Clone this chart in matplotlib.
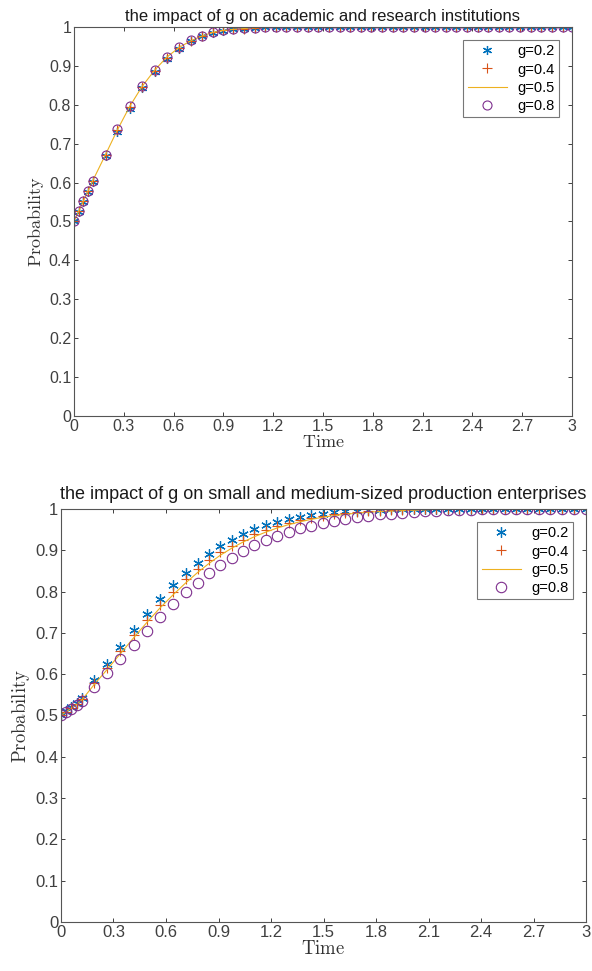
import numpy as np
import matplotlib
matplotlib.use('Agg')
import matplotlib.pyplot as plt

# Grundeinstellungen (MATLAB-Look)
plt.rcParams['font.family'] = ['Liberation Sans', 'DejaVu Sans']
plt.rcParams['mathtext.fontset'] = 'cm'

labels = ['g=0.2', 'g=0.4', 'g=0.5', 'g=0.8']
colors = ['#0072BD', '#D95319', '#EDB120', '#7E2F8E']

# oben: academic and research institutions
t_top = [0, 0.028, 0.056, 0.084, 0.112, 0.19, 0.262, 0.336, 0.41, 0.486, 0.558, 0.632,
         0.706, 0.772, 0.836, 0.898, 0.96, 1.024, 1.088, 1.152, 1.216, 1.28, 1.344, 1.408,
         1.472, 1.536, 1.6, 1.664, 1.728, 1.792, 1.856, 1.92, 1.984, 2.048, 2.112, 2.176,
         2.24, 2.304, 2.368, 2.432, 2.496, 2.56, 2.624, 2.688, 2.752, 2.816, 2.88, 2.944, 3.0]
top_g02 = [0.5, 0.525, 0.55, 0.576, 0.602, 0.668, 0.73, 0.79, 0.842, 0.885, 0.918, 0.944,
           0.963, 0.976, 0.985, 0.99, 0.994, 0.996, 0.998, 0.999, 0.999, 1.0, 1.0, 1.0,
           1.0, 1.0, 1.0, 1.0, 1.0, 1.0, 1.0, 1.0, 1.0, 1.0, 1.0, 1.0,
           1.0, 1.0, 1.0, 1.0, 1.0, 1.0, 1.0, 1.0, 1.0, 1.0, 1.0, 1.0, 1.0]
top_g04 = [0.5, 0.526, 0.552, 0.578, 0.604, 0.671, 0.735, 0.795, 0.846, 0.888, 0.921, 0.946,
           0.965, 0.977, 0.986, 0.991, 0.994, 0.996, 0.998, 0.999, 0.999, 1.0, 1.0, 1.0,
           1.0, 1.0, 1.0, 1.0, 1.0, 1.0, 1.0, 1.0, 1.0, 1.0, 1.0, 1.0,
           1.0, 1.0, 1.0, 1.0, 1.0, 1.0, 1.0, 1.0, 1.0, 1.0, 1.0, 1.0, 1.0]
top_g05 = [0.5, 0.526, 0.552, 0.578, 0.604, 0.672, 0.736, 0.796, 0.847, 0.889, 0.922, 0.947,
           0.965, 0.977, 0.986, 0.991, 0.994, 0.996, 0.998, 0.999, 0.999, 1.0, 1.0, 1.0,
           1.0, 1.0, 1.0, 1.0, 1.0, 1.0, 1.0, 1.0, 1.0, 1.0, 1.0, 1.0,
           1.0, 1.0, 1.0, 1.0, 1.0, 1.0, 1.0, 1.0, 1.0, 1.0, 1.0, 1.0, 1.0]
top_g08 = [0.5, 0.526, 0.552, 0.578, 0.604, 0.672, 0.737, 0.797, 0.848, 0.89, 0.923, 0.948,
           0.966, 0.978, 0.986, 0.991, 0.995, 0.997, 0.998, 0.999, 0.999, 1.0, 1.0, 1.0,
           1.0, 1.0, 1.0, 1.0, 1.0, 1.0, 1.0, 1.0, 1.0, 1.0, 1.0, 1.0,
           1.0, 1.0, 1.0, 1.0, 1.0, 1.0, 1.0, 1.0, 1.0, 1.0, 1.0, 1.0, 1.0]

# unten: small and medium-sized production enterprises
t_bot = [0, 0.03, 0.06, 0.09, 0.12, 0.19, 0.265, 0.34, 0.415, 0.49, 0.565, 0.64,
         0.715, 0.78, 0.845, 0.91, 0.975, 1.04, 1.105, 1.17, 1.235, 1.3, 1.365, 1.43,
         1.495, 1.56, 1.625, 1.69, 1.755, 1.82, 1.885, 1.95, 2.015, 2.08, 2.145, 2.21,
         2.275, 2.34, 2.405, 2.47, 2.535, 2.6, 2.665, 2.73, 2.795, 2.86, 2.93, 3.0]
bot_g02 = [0.5, 0.51, 0.52, 0.531, 0.543, 0.585, 0.625, 0.666, 0.706, 0.746, 0.783, 0.815,
           0.846, 0.87, 0.892, 0.91, 0.925, 0.94, 0.951, 0.961, 0.969, 0.976, 0.981, 0.986,
           0.989, 0.992, 0.994, 0.996, 0.997, 0.998, 0.999, 1.0, 1.0, 1.0, 1.0, 1.0,
           1.0, 1.0, 1.0, 1.0, 1.0, 1.0, 1.0, 1.0, 1.0, 1.0, 1.0, 1.0]
bot_g04 = [0.5, 0.509, 0.518, 0.528, 0.539, 0.578, 0.616, 0.655, 0.694, 0.732, 0.768, 0.8,
           0.83, 0.854, 0.876, 0.895, 0.911, 0.926, 0.939, 0.95, 0.959, 0.967, 0.973, 0.979,
           0.983, 0.987, 0.99, 0.992, 0.994, 0.996, 0.997, 0.998, 0.999, 1.0, 1.0, 1.0,
           1.0, 1.0, 1.0, 1.0, 1.0, 1.0, 1.0, 1.0, 1.0, 1.0, 1.0, 1.0]
bot_g05 = [0.5, 0.509, 0.518, 0.527, 0.538, 0.575, 0.612, 0.65, 0.688, 0.725, 0.76, 0.792,
           0.822, 0.846, 0.868, 0.888, 0.905, 0.92, 0.933, 0.944, 0.954, 0.962, 0.969, 0.975,
           0.98, 0.984, 0.987, 0.99, 0.992, 0.994, 0.995, 0.996, 0.997, 0.998, 0.999, 1.0,
           1.0, 1.0, 1.0, 1.0, 1.0, 1.0, 1.0, 1.0, 1.0, 1.0, 1.0, 1.0]
bot_g08 = [0.5, 0.508, 0.516, 0.525, 0.535, 0.568, 0.602, 0.636, 0.671, 0.705, 0.738, 0.769,
           0.798, 0.822, 0.845, 0.865, 0.882, 0.898, 0.912, 0.924, 0.935, 0.945, 0.953, 0.96,
           0.966, 0.972, 0.976, 0.98, 0.984, 0.987, 0.989, 0.991, 0.993, 0.995, 0.996, 0.997,
           0.998, 0.998, 0.999, 1.0, 1.0, 1.0, 1.0, 1.0, 1.0, 1.0, 1.0, 1.0]

titles = ['the impact of g on academic and research institutions',
          'the impact of g on small and medium-sized production enterprises']
x_ticks = [0, 0.3, 0.6, 0.9, 1.2, 1.5, 1.8, 2.1, 2.4, 2.7, 3]
x_ticklabels = ['0', '0.3', '0.6', '0.9', '1.2', '1.5', '1.8', '2.1', '2.4', '2.7', '3']
y_ticks = [0, 0.1, 0.2, 0.3, 0.4, 0.5, 0.6, 0.7, 0.8, 0.9, 1]
y_ticklabels = ['0', '0.1', '0.2', '0.3', '0.4', '0.5', '0.6', '0.7', '0.8', '0.9', '1']

fig = plt.figure(figsize=(5.92, 9.71), dpi=100)
ax1 = fig.add_axes([0.125, 0.5716, 0.841, 0.4006])
ax2 = fig.add_axes([0.103, 0.0505, 0.887, 0.4253])

asterisk = (6, 2, 0)

def dibujar(ax, t, y02, y04, y05, y08, titulo, fs, fs_tit, ms, tpad):
    ax.plot(t, y02, linestyle='none', marker=asterisk, color=colors[0], markersize=ms, markeredgewidth=0.9, label=labels[0])
    ax.plot(t, y04, linestyle='none', marker='+', color=colors[1], markersize=ms, markeredgewidth=0.8, label=labels[1])
    ax.plot(t, y05, linestyle='-', color=colors[2], linewidth=0.8, label=labels[2])
    ax.plot(t, y08, linestyle='none', marker='o', markerfacecolor='none', markeredgecolor=colors[3],
            markersize=ms, markeredgewidth=0.8, label=labels[3])
    ax.set_xlim(0, 3)
    ax.set_ylim(0, 1)
    ax.set_xticks(x_ticks)
    ax.set_xticklabels(x_ticklabels)
    ax.set_yticks(y_ticks)
    ax.set_yticklabels(y_ticklabels)
    ax.tick_params(direction='in', top=True, right=True, length=3, width=0.7,
                   labelsize=fs, colors='#404040', pad=2)
    for s in ax.spines.values():
        s.set_color('#555555')
        s.set_linewidth(0.8)
    ax.set_title(titulo, fontsize=fs_tit, color='#1a1a1a', pad=tpad)
    ax.set_xlabel(r'$\mathrm{Time}$', fontsize=fs + 1.5, color='#333333', labelpad=0)
    ax.set_ylabel(r'$\mathrm{Probability}$', fontsize=fs + 1.5, color='#333333', labelpad=2)
    leg = ax.legend(loc='upper right', fontsize=10.5, frameon=True, fancybox=False,
                    handlelength=2.7, handletextpad=0.7, borderpad=0.3, labelspacing=0.28,
                    markerfirst=True, borderaxespad=0.9)
    leg.get_frame().set_edgecolor('#555555')
    leg.get_frame().set_linewidth(0.8)

dibujar(ax1, t_top, top_g02, top_g04, top_g05, top_g08, titles[0], 11.5, 12, 6.5, 4)
dibujar(ax2, t_bot, bot_g02, bot_g04, bot_g05, bot_g08, titles[1], 12, 13, 7.5, 7)

fig.savefig('out.png', dpi=100)
